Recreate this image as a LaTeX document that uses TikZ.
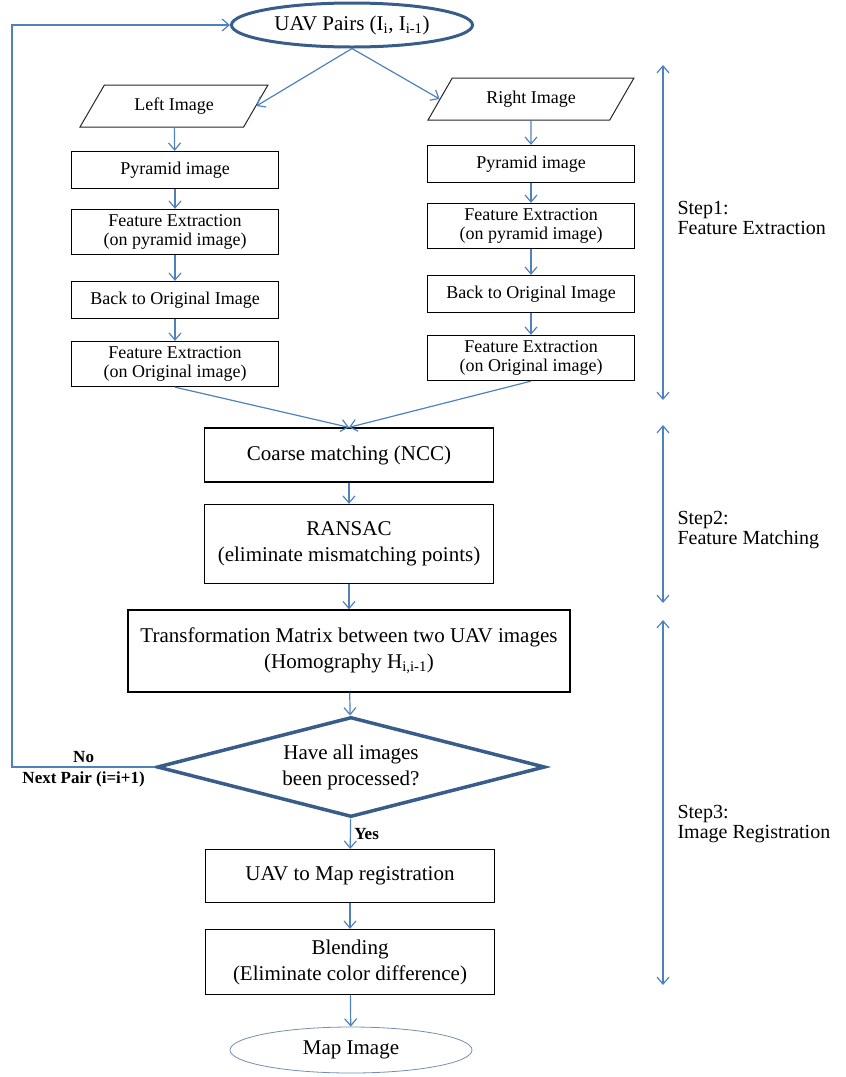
\documentclass[tikz,border=0pt]{standalone}
\usepackage{fontspec}
\setmainfont{Liberation Serif}
\usetikzlibrary{shapes.geometric,arrows.meta}
\definecolor{lineblue}{HTML}{4F81BD}
\definecolor{darkblue}{HTML}{385D8A}
\begin{document}
\begin{tikzpicture}[x=1pt,y=-1pt,
  conn/.style={draw=lineblue,line width=1.2pt,-{Straight Barb[length=7pt,width=12pt]}},
  steparrow/.style={draw=lineblue,line width=1.2pt,{Straight Barb[length=7pt,width=12pt]}-{Straight Barb[length=7pt,width=12pt]}},
  colbox/.style={draw=black,line width=1.3pt,minimum width=207pt,inner sep=0pt,align=center,font=\fontsize{18}{19}\selectfont},
  midbox/.style={draw=black,line width=1.3pt,minimum width=289pt,inner sep=0pt,align=center,font=\fontsize{21}{26}\selectfont},
  iobox/.style={draw=black!85,line width=1pt,trapezium,trapezium left angle=50,trapezium right angle=130,trapezium stretches=true,minimum height=42pt,inner sep=0pt,font=\fontsize{18}{19}\selectfont},
  steplabel/.style={anchor=west,align=left,font=\fontsize{20}{20}\selectfont}]
  \useasboundingbox (0,0) rectangle (846,1077);

  % input pair and the two branches
  \node[ellipse,draw=darkblue,line width=3pt,minimum width=241pt,minimum height=44pt,inner sep=0pt,font=\fontsize{21}{24}\selectfont] (pairs) at (352,25) {UAV Pairs (I\textsubscript{i}, I\textsubscript{i-1})};
  \node[iobox,minimum width=188pt] (left) at (174,106) {Left Image};
  \node[iobox,minimum width=206pt] (right) at (531,99) {Right Image};

  \node[colbox,minimum height=37pt] (lpyr) at (175,170) {Pyramid image};
  \node[colbox,minimum height=45pt] (lfep) at (175,232) {Feature Extraction\\(on pyramid image)};
  \node[colbox,minimum height=37pt] (lback) at (175,300) {Back to Original Image};
  \node[colbox,minimum height=45pt] (lfeo) at (175,364) {Feature Extraction\\(on Original image)};

  \node[colbox,minimum height=37pt] (rpyr) at (531,164) {Pyramid image};
  \node[colbox,minimum height=45pt] (rfep) at (531,226) {Feature Extraction\\(on pyramid image)};
  \node[colbox,minimum height=37pt] (rback) at (531,294) {Back to Original Image};
  \node[colbox,minimum height=45pt] (rfeo) at (531,358) {Feature Extraction\\(on Original image)};

  % matching and registration
  \node[midbox,minimum height=54pt] (coarse) at (349,455) {Coarse matching (NCC)};
  \node[midbox,minimum height=79pt] (ransac) at (349,544) {RANSAC\\(eliminate mismatching points)};
  \node[midbox,minimum width=442pt,minimum height=82pt] (trans) at (349,651) {Transformation Matrix between two UAV images\\(Homography H\textsubscript{i,i-1})};
  \node[diamond,draw=darkblue,line width=3.5pt,aspect=3.88,minimum width=388pt,minimum height=100pt,inner sep=0pt,align=center,font=\fontsize{21}{26}\selectfont] (check) at (351,767) {Have all images\\been processed?};
  \node[midbox,minimum height=53pt] (reg) at (350,876) {UAV to Map registration};
  \node[midbox,minimum height=65pt] (blend) at (350,962) {Blending\\(Eliminate color difference)};
  \node[ellipse,draw=darkblue!70,line width=0.8pt,minimum width=242pt,minimum height=46pt,inner sep=0pt,font=\fontsize{21}{24}\selectfont] (map) at (351,1050) {Map Image};

  \draw[conn] (pairs.south) -- (left.east);
  \draw[conn] (pairs.south) -- (right.west);
  \draw[conn] (left) -- (lpyr);
  \draw[conn] (lpyr) -- (lfep);
  \draw[conn] (lfep) -- (lback);
  \draw[conn] (lback) -- (lfeo);
  \draw[conn] (right) -- (rpyr);
  \draw[conn] (rpyr) -- (rfep);
  \draw[conn] (rfep) -- (rback);
  \draw[conn] (rback) -- (rfeo);
  \draw[conn] (lfeo.south) -- (coarse.north);
  \draw[conn] (rfeo.south) -- (coarse.north);
  \draw[conn] (coarse) -- (ransac);
  \draw[conn] (ransac) -- (trans);
  \draw[conn] (trans) -- (check);
  \draw[conn] (check) -- node[right,font=\bfseries\fontsize{17}{18}\selectfont]{Yes} (reg);
  \draw[conn] (reg) -- (blend);
  \draw[conn] (blend) -- (map);

  % loop back for the next pair
  \coordinate (loop) at (12,767);
  \draw[conn] (check.west) -- node[above,font=\bfseries\fontsize{17}{18}\selectfont]{No} node[below=1pt,font=\bfseries\fontsize{17}{18}\selectfont]{Next Pair (i=i+1)} (loop) |- (pairs.west);

  % step ranges on the right
  \coordinate (s1a) at (663,65);
  \coordinate (s1b) at (663,400);
  \coordinate (s2a) at (663,425);
  \coordinate (s2b) at (663,603);
  \coordinate (s3a) at (663,620);
  \coordinate (s3b) at (663,985);
  \draw[steparrow] (s1a) -- (s1b);
  \draw[steparrow] (s2a) -- (s2b);
  \draw[steparrow] (s3a) -- (s3b);
  \node[steplabel] (step1) at (674,218) {Step1:\\Feature Extraction};
  \node[steplabel] (step2) at (674,530) {Step2:\\Feature Matching};
  \node[steplabel] (step3) at (674,824) {Step3:\\Image Registration};
\end{tikzpicture}
\end{document}
